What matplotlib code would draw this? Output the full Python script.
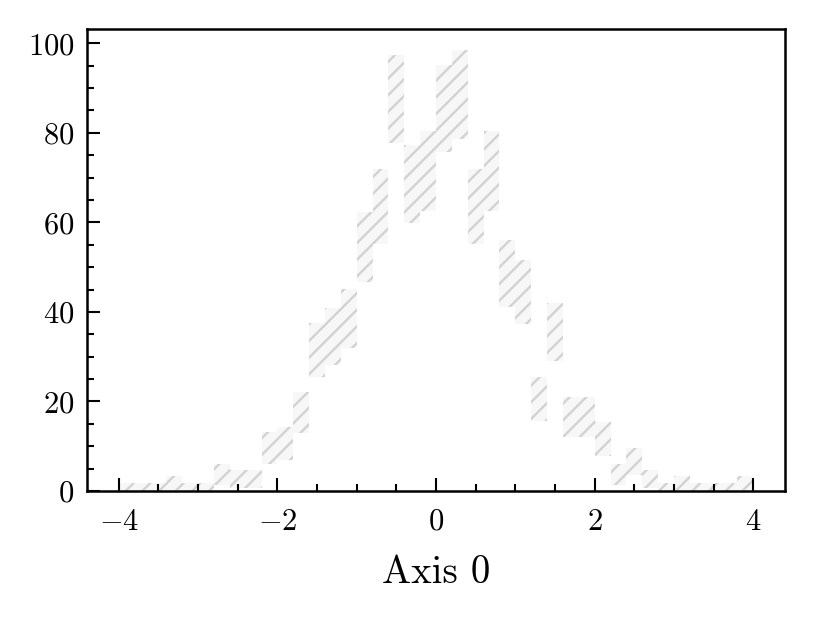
import math
import numpy as np
import matplotlib
matplotlib.use("Agg")
import matplotlib.pyplot as plt
from matplotlib.ticker import MultipleLocator

plt.rcParams['font.family'] = 'serif'
plt.rcParams['font.serif'] = ['cmr10']
plt.rcParams['mathtext.fontset'] = 'cm'
plt.rcParams['axes.formatter.use_mathtext'] = True
plt.rcParams['hatch.linewidth'] = 1.7

# histogram: 40 bins over [-4, 4], 1000 entries
edges = np.linspace(-4, 4, 41)
counts = [0, 0, 0, 1, 0, 0, 3, 2, 2, 9,
          10, 17, 31, 34, 38, 54, 63, 87, 68, 71,
          85, 88, 63, 71, 48, 44, 20, 35, 16, 16,
          11, 3, 6, 2, 0, 1, 0, 0, 0, 1]


# Poisson (Garwood) 1-sigma interval
def pois_cdf(n, mu):
    if n < 0:
        return 0.0
    return sum(math.exp(-mu + k * math.log(mu) - math.lgamma(k + 1)) for k in range(n + 1))


def solve(f, target, lo, hi):
    # f decreasing in mu
    for _ in range(80):
        mid = 0.5 * (lo + hi)
        if f(mid) > target:
            lo = mid
        else:
            hi = mid
    return 0.5 * (lo + hi)


alpha = (1 - 0.682689) / 2
lower, upper = [], []
for n in counts:
    up = solve(lambda m: pois_cdf(n, m), alpha, 1e-9, n + 50)
    lo = 0.0 if n == 0 else solve(lambda m: pois_cdf(n - 1, m), 1 - alpha, 1e-9, n + 50)
    lower.append(lo)
    upper.append(up)

fig = plt.figure(figsize=(8.14, 6.19), dpi=100)
ax = fig.add_axes([0.1069, 0.2068, 0.8575, 0.7464])

ax.stairs(upper, edges, baseline=lower, fill=True, facecolor='#f7f7f7',
          edgecolor='#d2d2d2', hatch='//', linewidth=0)

ax.set_xlim(-4.4, 4.4)
ax.set_ylim(0, 103.2)
ax.xaxis.set_major_locator(MultipleLocator(2))
ax.xaxis.set_minor_locator(MultipleLocator(0.5))
ax.yaxis.set_major_locator(MultipleLocator(20))
ax.yaxis.set_minor_locator(MultipleLocator(5))
ax.tick_params(which='both', direction='in', width=1.5, labelsize=22)
ax.tick_params(which='major', length=9.5)
ax.tick_params(which='minor', length=5)
ax.tick_params(axis='x', which='major', pad=12.5)
ax.tick_params(axis='y', which='major', pad=9)
for s in ax.spines.values():
    s.set_linewidth(1.8)

ax.set_xlabel('Axis 0', fontsize=28, labelpad=14)

fig.savefig('out.png', dpi=100)
